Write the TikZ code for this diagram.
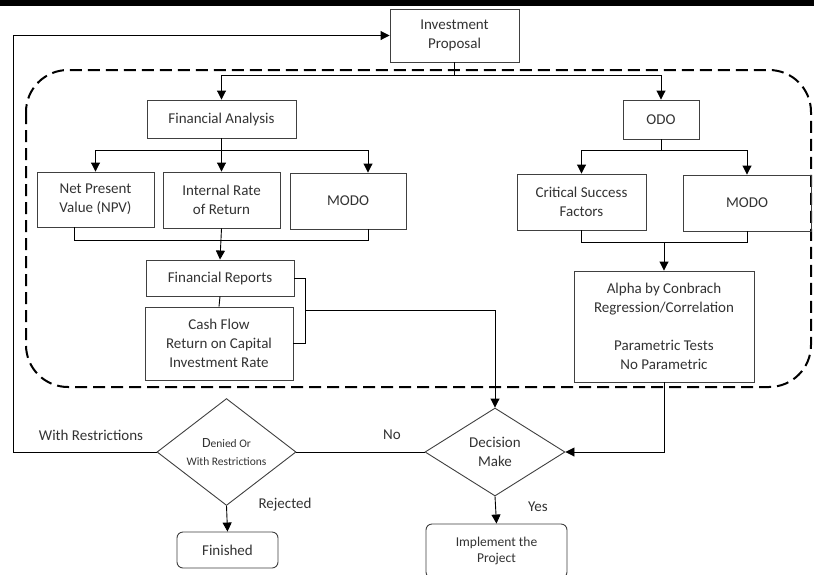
\documentclass[tikz,border=0pt]{standalone}
\usepackage{fontspec}
\setmainfont{Carlito}
\usetikzlibrary{arrows.meta,positioning,shapes.geometric}

\begin{document}
\begin{tikzpicture}[x=1pt,y=-1pt,
    bx/.style={draw=black!75,line width=0.9pt,inner sep=2pt,align=center,text=black!80,font=\fontsize{15}{19}\selectfont},
    rbx/.style={bx,rounded corners=6pt},
    dm/.style={diamond,draw=black!75,line width=0.9pt,inner sep=0pt,align=center,text=black!80,font=\fontsize{15}{19}\selectfont,minimum width=140pt,minimum height=88pt},
    lbl/.style={text=black!80,font=\fontsize{15}{19}\selectfont},
    ln/.style={line width=0.9pt},
    ar/.style={ln,-{Triangle[length=9pt,width=9pt]}},
    dashbox/.style={line width=2pt,dash pattern=on 12pt off 6pt,rounded corners=42pt}
]
\useasboundingbox (0,0) rectangle (814,574);
\clip (0,0) rectangle (814,574);
\fill[white] (0,0) rectangle (814,574);
\fill[black] (0,0) rectangle (814,6);

% dashed evaluation area
\draw[dashbox] (26,70) rectangle (811,387);

% boxes
\node[bx,minimum width=129pt,minimum height=53pt] (inv) at (454.5,35.5) {Investment\\Proposal};
\node[bx,minimum width=149pt,minimum height=38pt] (fa) at (221.5,119) {Financial Analysis};
\node[bx,minimum width=76pt,minimum height=39pt] (odo) at (661,119.5) {ODO};
\node[bx,minimum width=117pt,minimum height=55pt] (npv) at (95.5,199.5) {Net Present\\Value (NPV)};
\node[bx,minimum width=117pt,minimum height=56pt] (irr) at (221.5,200) {Internal Rate\\of Return};
\node[bx,minimum width=116pt,minimum height=56pt] (modoa) at (348,201) {MODO};
\node[bx,minimum width=129pt,minimum height=56pt] (csf) at (581.5,202) {Critical Success\\Factors};
\node[bx,minimum width=128pt,minimum height=56pt] (modob) at (747,203) {MODO};
\node[bx,minimum width=148pt,minimum height=36pt] (fr) at (220,278) {Financial Reports};
\node[bx,minimum width=148pt,minimum height=73pt] (cf) at (219,343.5) {Cash Flow\\Return on Capital\\Investment Rate};
\node[bx,minimum width=180pt,minimum height=111pt] (alpha) at (664,326.5) {Alpha by Conbrach\\Regression/Correlation\\[19pt]Parametric Tests\\No Parametric};

% decisions and ends
\node[dm] (dec) at (495,452) {Decision\\Make};
\node[dm,minimum width=139pt,font=\fontsize{11.5}{18}\selectfont] (den) at (226.5,452) {{\fontsize{14}{18}\selectfont D}enied Or\\With Restrictions};
\node[rbx,minimum width=101pt,minimum height=36pt] (fin) at (227.5,550) {Finished};
\node[rbx,minimum width=141pt,minimum height=54pt,font=\fontsize{13.5}{16.5}\selectfont] (imp) at (496.5,551) {Implement the\\Project};

% labels
\node[lbl] (lwr) at (91,435) {With Restrictions};
\node[lbl] (lno) at (392,435) {No};
\node[lbl] (lrej) at (285,505) {Rejected};
\node[lbl] (lyes) at (538,507) {Yes};

% connectors
\draw[ln] (inv.south) -- ++(0,13) coordinate (invb);
\draw[ar] (invb) -| (fa.north);
\draw[ar] (invb) -| (odo.north);

\draw[ln] (fa.south) -- ++(0,12) coordinate (fab);
\draw[ar] (fab) -| (npv.north);
\draw[ar] (fab) -- (irr.north);
\draw[ar] (fab) -| ([xshift=20pt]modoa.north);

\coordinate (npvb) at ([xshift=-21pt]npv.south);
\coordinate (modoab) at ([xshift=20pt]modoa.south);
\draw[ln] (npvb) -- (npvb |- 0,240) -| (modoab);
\draw[ar] (irr.south) -- (fr.north);
\draw[ln] (fr.south) -- (cf.north);
\draw[ln] (fr.east) -- ++(11,0) coordinate (brt) |- (cf.east);
\coordinate (brm) at (brt |- 0,310);
\draw[ar] (brm) -| (dec.north);

\draw[ln] (odo.south) -- ++(0,11) coordinate (odob);
\draw[ar] (odob) -| (csf.north);
\draw[ar] (odob) -| (modob.north);
\draw[ln] (csf.south) -- (csf.south |- 0,242) -| (modob.south);
\coordinate (alm) at (alpha.north |- 0,242);
\draw[ar] (alm) -- (alpha.north);
\draw[ar] (alpha.south) |- (dec.east);

\draw[ln] (dec.west) -- (den.east);
\draw[ar] (dec.south) -- (imp.north);
\draw[ar] (den.south) -- (fin.north);
\coordinate (lp) at (13,452);
\draw[ar] (den.west) -- (lp) |- (inv.west);
\end{tikzpicture}
\end{document}
